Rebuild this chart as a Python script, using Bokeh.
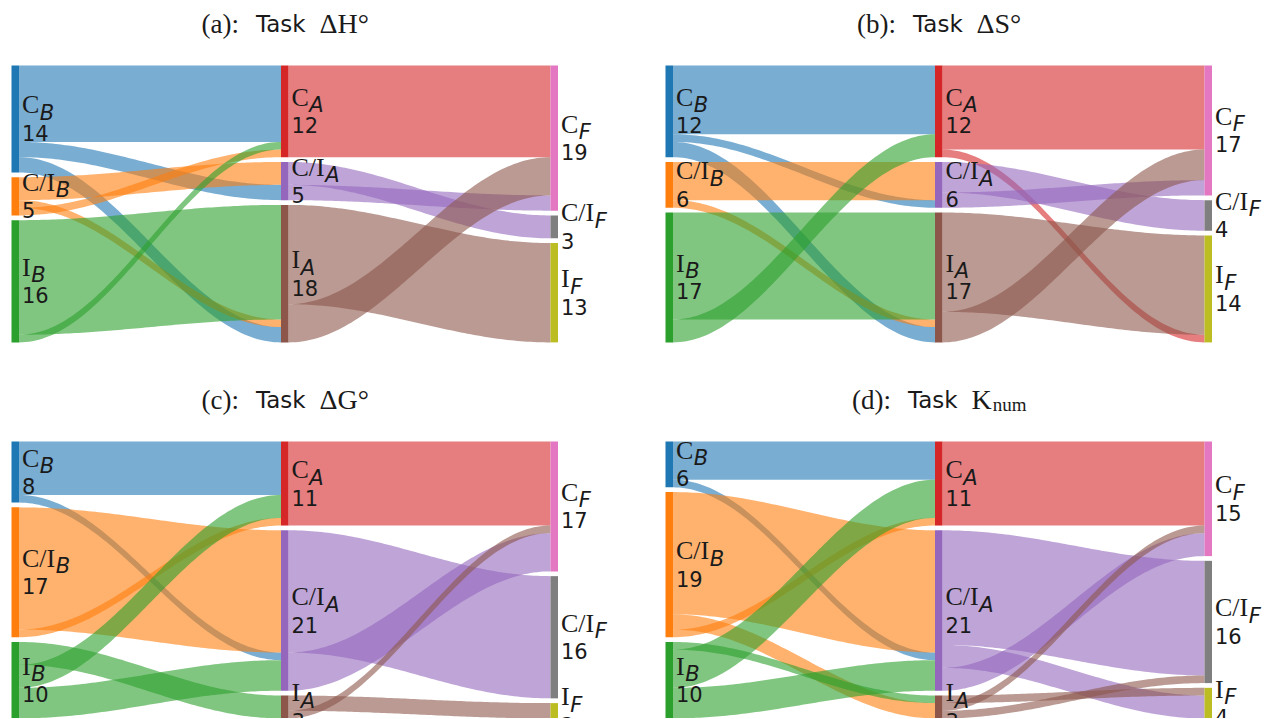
import numpy as np
from bokeh.plotting import figure
from bokeh.layouts import gridplot
from bokeh.models import ColumnDataSource, Range1d
from bokeh.core.properties import value
from bokeh.embed import file_html
from bokeh.resources import INLINE

# ---------------- data ----------------
panel_tags = ["(a):", "(b):", "(c):", "(d):"]
task_words = ["Task", "Task", "Task", "Task"]
task_symbols = ["ΔH°", "ΔS°", "ΔG°", "K"]
task_subscripts = ["", "", "", "num"]
categories = ["C", "C/I", "I"]
stage_names = ["B", "A", "F"]

# flows[source][target]   (rows: C, C/I, I)
flows_BA_a = [[10, 2, 2], [1, 3, 1], [1, 0, 15]]
flows_AF_a = [[12, 0, 0], [2, 3, 0], [5, 0, 13]]
flows_BA_b = [[9, 1, 2], [0, 5, 1], [3, 0, 14]]
flows_AF_b = [[11, 0, 1], [2, 4, 0], [4, 0, 13]]
flows_BA_c = [[7, 1, 0], [1, 16, 0], [3, 4, 3]]
flows_AF_c = [[11, 0, 0], [5, 16, 0], [1, 0, 2]]
flows_BA_d = [[5, 1, 0], [1, 16, 2], [5, 4, 1]]
flows_AF_d = [[11, 0, 0], [3, 15, 3], [1, 1, 1]]

node_colors = [["#1f77b4", "#ff7f0e", "#2ca02c"],
               ["#d62728", "#9467bd", "#8c564b"],
               ["#e377c2", "#7f7f7f", "#bcbd22"]]

# ---------------- geometry / style ----------------
UNIT = 7.64           # px per flow unit
GAP = 4.75 / UNIT     # gap between nodes, in units
COLW = 269.5          # px between columns
BARW = 7.5 / COLW     # bar width in column units
TOP = 65              # px from figure top to node top
FIG_W = [637, 636]
FIG_H = [376, 342]
LEFT_PX = [11, 28]
TITLE_BASE = 23       # px from figure top to title baseline
SERIF = "Liberation Serif"
SANS = "DejaVu Sans"
TXT = "#1a1a1a"
LBL_SERIF, LBL_SUB, LBL_NUM = 26, 21, 21

SERIF_W = {'(': .333, ')': .333, ':': .278, 'a': .444, 'b': .5, 'c': .444, 'd': .5,
           'Δ': .612, 'H': .722, 'S': .556, 'G': .722, 'K': .722, '°': .4,
           'n': .5, 'u': .5, 'm': .778, 'C': .667, '/': .278, 'I': .333}
SANS_W = {'T': .611, 'a': .613, 's': .521, 'k': .579}


def tw(s, table, size):
    return sum(table.get(ch, .55) for ch in s) * size


def make_panel(i, BA, AF):
    r, c = divmod(i, 2)
    W, H = FIG_W[c], FIG_H[r]
    x0 = -LEFT_PX[c] / COLW
    y_top = -TOP / UNIT
    p = figure(width=W, height=H, output_backend="svg", toolbar_location=None, tools="",
               x_range=Range1d(x0, x0 + W / COLW),
               y_range=Range1d(y_top + H / UNIT, y_top),
               x_axis_location=None, y_axis_location=None, min_border=0)
    p.grid.visible = False
    p.outline_line_color = None

    BA = np.array(BA)
    AF = np.array(AF)
    totals = [BA.sum(axis=1), BA.sum(axis=0), AF.sum(axis=0)]
    tops = []
    for col in range(3):
        t = np.concatenate([[0], np.cumsum(totals[col])[:-1]]) + np.arange(3) * GAP
        tops.append(t.astype(float))

    # links
    s = np.linspace(0, 1, 80)
    f = 0.5 - 0.5 * np.cos(np.pi * s)
    for stage, M in enumerate([BA, AF]):
        src_slot, tgt_slot = {}, {}
        for k in range(3):
            y = tops[stage][k]
            for d in range(3):
                m = (k + d) % 3
                if M[k, m] > 0:
                    src_slot[(k, m)] = y
                    y += M[k, m]
        for m in range(3):
            y = tops[stage + 1][m]
            for d in range(3):
                k = (m - d) % 3
                if M[k, m] > 0:
                    tgt_slot[(k, m)] = y
                    y += M[k, m]
        xs, ys, cols = [], [], []
        xa, xb = stage + BARW, stage + 1
        xx = xa + (xb - xa) * s
        for k in range(3):
            for m in range(3):
                v = M[k, m]
                if v <= 0:
                    continue
                yt = src_slot[(k, m)] + (tgt_slot[(k, m)] - src_slot[(k, m)]) * f
                yb = yt + v
                xs.append(list(xx) + list(xx[::-1]))
                ys.append(list(yt) + list(yb[::-1]))
                cols.append(node_colors[stage][k])
        p.patches(xs=xs, ys=ys, fill_color=cols, fill_alpha=0.6, line_color=None)

    # node bars + labels
    for col in range(3):
        p.quad(left=[col] * 3, right=[col + BARW] * 3, top=list(tops[col]),
               bottom=list(tops[col] + totals[col]), fill_color=node_colors[col], line_color=None)
        centers = list(tops[col] + totals[col] / 2.0)
        src = ColumnDataSource(dict(
            x=[col + BARW] * 3, y=centers,
            main=categories,
            sub=[stage_names[col]] * 3,
            num=[str(int(v)) for v in totals[col]],
            subx=[3 + tw(cat, SERIF_W, LBL_SERIF) + 0.5 for cat in categories]))
        p.text(x="x", y="y", text="main", source=src, x_offset=3, y_offset=-14,
               text_font=value(SERIF), text_font_size=f"{LBL_SERIF}px", text_color=TXT,
               text_align="left", text_baseline="alphabetic")
        p.text(x="x", y="y", text="sub", source=src, x_offset="subx", y_offset=-6,
               text_font=value(SANS), text_font_style="italic", text_font_size=f"{LBL_SUB}px",
               text_color=TXT, text_align="left", text_baseline="alphabetic")
        p.text(x="x", y="y", text="num", source=src, x_offset=3, y_offset=14,
               text_font=value(SANS), text_font_size=f"{LBL_NUM}px", text_color=TXT,
               text_align="left", text_baseline="alphabetic")

    # title pieces
    TS, TT, TSYM = 27, 23, 28
    gap1, gap2 = 17, 10
    w1 = tw(panel_tags[i], SERIF_W, TS)
    w2 = tw(task_words[i], SANS_W, TT)
    w3a = tw(task_symbols[i], SERIF_W, TSYM)
    w3 = w3a + tw(task_subscripts[i], SERIF_W, 19)
    total = w1 + gap1 + w2 + gap2 + w3
    start = -total / 2
    cx = 1 + BARW / 2
    ty = (TITLE_BASE - TOP) / UNIT
    p.text(x=[cx], y=[ty], text=[panel_tags[i]], x_offset=start, text_font=value(SERIF),
           text_font_size=f"{TS}px", text_color=TXT, text_align="left", text_baseline="alphabetic")
    p.text(x=[cx], y=[ty], text=[task_words[i]], x_offset=start + w1 + gap1, text_font=value(SANS),
           text_font_size=f"{TT}px", text_color=TXT, text_align="left", text_baseline="alphabetic")
    p.text(x=[cx], y=[ty], text=[task_symbols[i]], x_offset=start + w1 + gap1 + w2 + gap2,
           text_font=value(SERIF), text_font_size=f"{TSYM}px", text_color=TXT,
           text_align="left", text_baseline="alphabetic")
    if task_subscripts[i]:
        p.text(x=[cx], y=[ty], text=[task_subscripts[i]],
               x_offset=start + w1 + gap1 + w2 + gap2 + w3a + 1,
               y_offset=5, text_font=value(SERIF), text_font_size="19px", text_color=TXT,
               text_align="left", text_baseline="alphabetic")
    return p


panels = [make_panel(0, flows_BA_a, flows_AF_a), make_panel(1, flows_BA_b, flows_AF_b),
          make_panel(2, flows_BA_c, flows_AF_c), make_panel(3, flows_BA_d, flows_AF_d)]
grid = gridplot([[panels[0], panels[1]], [panels[2], panels[3]]], toolbar_location=None)

open("out.html", "w").write(file_html(grid, INLINE))
